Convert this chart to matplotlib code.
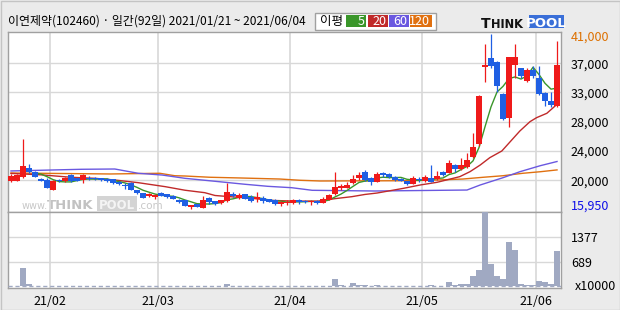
import numpy as np
import pandas as pd
import matplotlib
matplotlib.use("Agg")
import matplotlib.pyplot as plt
from matplotlib.patches import Rectangle

plt.rcParams['font.family'] = ['Noto Sans CJK KR', 'DejaVu Sans']

title = "이연제약(102460) · 일간(92일) 2021/01/21 ~ 2021/06/04"
month_labels = ["21/02", "21/03", "21/04", "21/05", "21/06"]
month_starts = [7, 25, 47, 69, 88]   # index of first trading day of each month

# daily candles, 2021/01/21 .. 2021/06/04 (92 trading days)
opens = [20000, 20050, 20650, 21900, 21350, 20300, 20150, 18750, 20150, 20050,
         20850, 20400, 20150, 20500, 20400, 20400, 20300, 20250, 19900, 19400,
         19750, 18700, 18250, 17850, 17700, 18350, 18100, 17900, 17250, 17250,
         16300, 16750, 16200, 17550, 17150, 16850, 17150, 18100, 17550, 18150,
         17800, 17450, 17650, 17450, 17300, 16800, 16900, 16900, 17250, 17150,
         17000, 17150, 16900, 17300, 18150, 18950, 19050, 19700, 20400, 21350,
         20400, 19900, 21200, 21000, 20550, 20350, 20000, 19650, 20350, 20000,
         20400, 20300, 21250, 21200, 22300, 21750, 22050, 23450, 25250, 36350,
         37600, 37050, 32400, 29050, 36550, 36100, 34350, 35850, 34750, 32550,
         31450, 30750]
highs = [20950, 21050, 26000, 22450, 21500, 20400, 20400, 20100, 20300, 20650,
         20950, 20500, 20950, 20700, 20650, 20500, 20400, 20350, 20000, 19700,
         19850, 18750, 18300, 18250, 18150, 18400, 18200, 17950, 17400, 17300,
         16650, 16800, 17850, 17800, 17200, 17300, 19800, 18500, 18300, 18200,
         18000, 18500, 17850, 17500, 17450, 17150, 17300, 17450, 17450, 17250,
         17300, 17300, 17700, 18150, 21300, 19600, 19900, 20850, 21350, 21600,
         20650, 21350, 21350, 21200, 20800, 20450, 20050, 20800, 20650, 20850,
         22300, 21500, 21500, 23000, 22400, 23350, 23950, 26800, 32300, 39550,
         41000, 37150, 32550, 37750, 39550, 36200, 36100, 36500, 36450, 32750,
         32750, 40000]
lows = [19900, 20000, 20500, 21200, 20600, 19950, 18950, 18700, 19900, 19900,
        19900, 19950, 19800, 20150, 20150, 20050, 19900, 19550, 19450, 18900,
        18700, 18200, 17600, 17750, 17450, 17850, 17650, 17400, 16900, 16400,
        15950, 16300, 16100, 16800, 16600, 16800, 17050, 17700, 17450, 17400,
        16950, 16950, 16900, 17000, 16600, 16500, 16600, 16750, 16800, 16900,
        16600, 16750, 16850, 17250, 18000, 18800, 18950, 19600, 20150, 20050,
        19450, 19850, 20650, 20400, 20050, 19950, 19450, 19550, 19900, 19900,
        19850, 20150, 20800, 21100, 21350, 21600, 21900, 23350, 25050, 34200,
        36100, 32750, 28700, 27750, 34700, 34650, 34200, 34650, 32300, 30750,
        30650, 30650]
closes = [20800, 20900, 22150, 21350, 20650, 20000, 19050, 20050, 19950, 20400,
          20000, 20000, 20850, 20250, 20300, 20150, 20000, 19700, 19550, 19300,
          18750, 18250, 17650, 18150, 18000, 17900, 17700, 17450, 17050, 16450,
          16600, 16350, 17300, 16950, 16800, 17250, 18450, 17900, 18000, 17450,
          17150, 17750, 17150, 17050, 16800, 16950, 17050, 17350, 17000, 16950,
          17200, 16850, 17450, 18050, 19150, 19250, 19450, 20350, 20850, 20150,
          19900, 21000, 20900, 20550, 20200, 20000, 19650, 20500, 20150, 20600,
          19900, 20750, 20850, 22600, 21750, 22300, 23000, 24800, 32150, 36550,
          36500, 33600, 28850, 37700, 37700, 35000, 35850, 35050, 32450, 31450,
          30850, 36550]
# volume, x10000 shares
volumes = [20, 15, 519, 72, 15, 10, 12, 10, 8, 9,
           10, 8, 9, 8, 7, 8, 8, 9, 8, 10,
           10, 9, 10, 8, 9, 8, 8, 9, 10, 12,
           14, 10, 12, 10, 9, 8, 72, 12, 10, 9,
           10, 12, 9, 8, 10, 9, 8, 10, 9, 8,
           9, 8, 10, 14, 212, 36, 15, 100, 45, 45,
           15, 45, 14, 12, 10, 10, 12, 14, 12, 12,
           36, 15, 15, 129, 45, 72, 72, 287, 455, 2066,
           631, 287, 204, 1236, 1013, 63, 36, 36, 148, 120,
           63, 993]

# moving averages (index, price)
ma20_idx = [0, 5, 10, 14, 17.3, 21.2, 25.7, 29, 32.3, 34, 36.2, 40.1, 43.4, 47.3,
            51.2, 54, 56.8, 59, 61, 65.4, 68.2, 71, 74.8, 76.5, 78.2, 79.8, 81.8,
            83.2, 84.8, 86.5, 87.6, 89.3, 91]
ma20_val = [21100, 20900, 20550, 20400, 20160, 19780, 19210, 18700, 18350, 17950,
            17800, 17550, 17250, 17150, 17150, 17500, 17780, 18100, 18300, 18970,
            19450, 19830, 20640, 21350, 22300, 23350, 24300, 25630, 27150, 28490,
            29060, 29680, 30960]
ma60_idx = [0, 11.8, 17.3, 21.2, 25.2, 29, 33.5, 39, 42.8, 46.8, 50.2, 60.7, 76,
            78.2, 82, 84.8, 88.2, 91]
ma60_val = [21450, 21690, 21730, 21120, 20870, 20400, 20020, 19550, 19260, 19060,
            18690, 18590, 18730, 19450, 20490, 21340, 22200, 22800]
ma120_idx = [0, 16.5, 24.8, 27.3, 29, 33.2, 38.2, 44.8, 48.2, 51.5, 66.5, 71,
             75.3, 78.7, 82, 85.3, 88.2, 91]
ma120_val = [21160, 21020, 21120, 20770, 20730, 20550, 20450, 20300, 20120, 20020,
             20060, 20160, 20300, 20550, 20770, 21120, 21340, 21600]

price_labels = ["37,000", "33,000", "28,000", "24,000", "20,000"]
vol_labels = ["1377", "689"]
legend_names = ["5", "20", "60", "120"]

UP, DOWN = '#ef1a1a', '#1f5fe3'
GRID = '#d8d8d8'
MA_COLORS = ['#3a962a', '#c02a2a', '#6a58e0', '#e07010']

W, H = 620, 310
def box(x0, y0, x1, y1):
    return [x0 / W, 1 - y1 / H, (x1 - x0) / W, (y1 - y0) / H]

fig = plt.figure(figsize=(6.2, 3.1), dpi=100, facecolor='#ebebeb')
ax = fig.add_axes(box(7.5, 31.5, 560.5, 212))
axv = fig.add_axes(box(7.5, 212, 560.5, 288))

o = np.array(opens); h = np.array(highs); l = np.array(lows); c = np.array(closes)
x = np.arange(len(c))
hi, lo = h.max(), l.min()
span = hi - lo
pad = span * 2.5 / 175.5

# candles
col = np.where(c >= o, UP, DOWN)
ax.vlines(x, l, h, colors=col, linewidth=0.9, zorder=3)
body = np.maximum(np.abs(c - o), span * 0.006)
ax.bar(x, body, bottom=np.minimum(o, c), width=0.84, color=col, zorder=4, linewidth=0)

# moving averages
ma5 = pd.Series(closes).rolling(5).mean()
ax.plot(ma120_idx, ma120_val, color=MA_COLORS[3], lw=1.0, zorder=2)
ax.plot(ma60_idx, ma60_val, color=MA_COLORS[2], lw=1.0, zorder=2)
ax.plot(ma20_idx, ma20_val, color=MA_COLORS[1], lw=1.0, zorder=2)
ax.plot(x, ma5, color=MA_COLORS[0], lw=1.0, zorder=2)

ax.set_xlim(-0.58, len(c) - 0.42)
ax.set_ylim(lo - pad, hi + pad)
grid_y = np.linspace(hi, lo, 7)[1:-1]
for gy in grid_y:
    ax.axhline(gy, color=GRID, lw=1.0, zorder=0.8)
for m in month_starts:
    ax.axvline(m - 0.5, color=GRID, lw=1.2, zorder=0.8)
    axv.axvline(m - 0.5, color=GRID, lw=1.2, zorder=0.8)

ax.set_xticks([])
ax.yaxis.tick_right()
ax.set_yticks(grid_y)
ax.set_yticklabels(price_labels, fontsize=9)
ax.tick_params(axis='y', length=0, pad=7.5)
ax.annotate("41,000", xy=(1, hi), xycoords=('axes fraction', 'data'), xytext=(7.5, -2.3),
            textcoords='offset points', va='center', ha='left', fontsize=9, color='#dd7000')
ax.annotate("15,950", xy=(1, lo), xycoords=('axes fraction', 'data'), xytext=(7.5, 2.3),
            textcoords='offset points', va='center', ha='left', fontsize=9, color='#1010e8')

# volume
v = np.array(volumes)
vmax = v.max()
axv.bar(x, v, width=0.84, color='#a0a9c2', zorder=3, linewidth=0)
axv.axhline(0, color='#a0a9c2', lw=1.0, ls=(0, (3, 2)), zorder=4)
vt = [vmax * 2 / 3, vmax / 3]
for gy in vt:
    axv.axhline(gy, color=GRID, lw=1.0, zorder=0.8)
axv.set_xlim(-0.58, len(c) - 0.42)
axv.set_ylim(-vmax * 1.7 / 74, vmax)
axv.yaxis.tick_right()
axv.set_yticks(vt)
axv.set_yticklabels(vol_labels, fontsize=9)
axv.tick_params(axis='y', length=0, pad=7.5)
axv.set_xticks(np.array(month_starts) - 0.5)
axv.set_xticklabels(month_labels, fontsize=9)
axv.tick_params(axis='x', length=0, pad=5)
axv.annotate("x10000", xy=(1, 0), xycoords=('axes fraction', 'data'), xytext=(10.5, 0),
             textcoords='offset points', va='center', ha='left', fontsize=9)

for a in (ax, axv):
    for s in a.spines.values():
        s.set_color('#a0a0a0')
        s.set_linewidth(1.0)

# overlay in pixel coordinates
ov = fig.add_axes([0, 0, 1, 1])
ov.set_xlim(0, W)
ov.set_ylim(H, 0)
ov.axis('off')

# watermark inside price panel
wm = dict(transform=ov.transData, va='baseline', ha='left', zorder=0.5, family='DejaVu Sans')
ax.text(22, 209, "www.", fontsize=7, color='#c8c8c8', **wm)
ax.text(47, 209, "THINK", fontsize=9.5, color='#c2c2c2', weight='bold', **wm)
ax.add_patch(Rectangle((97, 196), 40, 15, transform=ov.transData, facecolor='#d4d4d4',
                       edgecolor='none', zorder=0.4))
ax.text(99, 209, "POOL", fontsize=8.5, color='#f4f4f4', weight='bold', **wm)
ax.text(138, 209, ".com", fontsize=7.5, color='#c8c8c8', **wm)

# title
ov.text(8, 21, title, va='center', ha='left', fontsize=8.6)

# legend
ov.add_patch(Rectangle((315, 12.5), 120.5, 17, facecolor='white', edgecolor='#a0a0a0', lw=1))
ov.text(320, 21, "이평", va='center', ha='left', fontsize=9)
leg_x = [(346, 366), (367.5, 387.5), (389, 409), (410, 431.5)]
for name, colr, (x0, x1) in zip(legend_names, MA_COLORS, leg_x):
    ov.add_patch(Rectangle((x0, 15), x1 - x0, 12, facecolor=colr, edgecolor='none'))
    ov.text(x1 - 1.5, 21.3, name, va='center', ha='right', fontsize=9, color='white')

# logo
ov.text(481, 28, "T", va='baseline', ha='left', fontsize=10, weight='bold',
        family='DejaVu Sans', color='#111111')
ov.text(490.5, 28, "HINK", va='baseline', ha='left', fontsize=8.3, weight='bold',
        family='DejaVu Sans', color='#111111')
ov.add_patch(Rectangle((528.5, 14.5), 35, 13.5, facecolor='#3a6fd8', edgecolor='none'))
ov.text(546, 27.3, "POOL", va='baseline', ha='center', fontsize=9.5, weight='bold',
        family='DejaVu Sans', color='white')

# outer frame
ov.add_patch(Rectangle((0.5, 0.5), W - 1, H - 1, facecolor='none', edgecolor='#c4c4c4', lw=1))

fig.savefig("out.png", dpi=100, facecolor=fig.get_facecolor())
